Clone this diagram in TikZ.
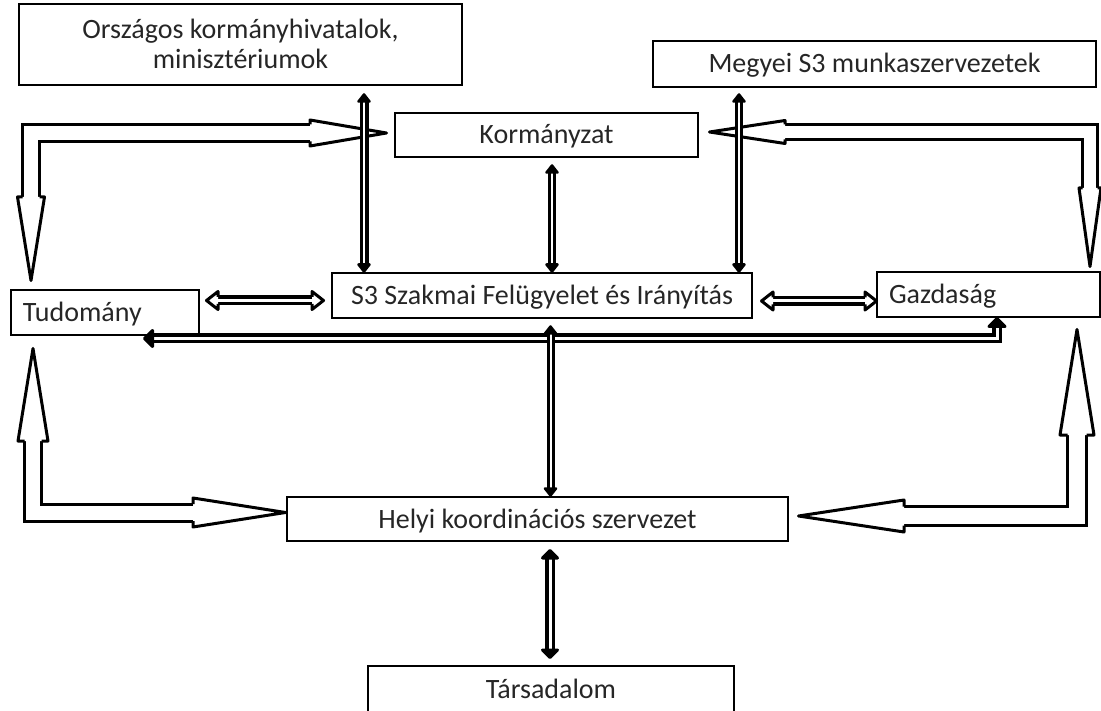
\documentclass[tikz,border=0pt]{standalone}
\usepackage{fontspec}
\setmainfont{Carlito}
\usetikzlibrary{calc}
% shaft: #1 path, #2 outer width, #3 inner (white) width
\newcommand\shaft[3]{%
  \draw[line width=#2pt, line join=miter] #1;
  \draw[white, line width=#3pt, line join=miter] #1;}
% head: #1 tip coordinate, #2 angle, #3 half shaft, #4 half head, #5 length, #6 stroke
\newcommand\bhead[6]{%
  \begin{scope}[shift={#1}, rotate=#2]
    \filldraw[fill=white, line width=#6pt, line join=round]
      (-#5,#3) -- (-#5,#4) -- (0,0) -- (-#5,-#4) -- (-#5,-#3);
  \end{scope}}
% solid small head: #1 tip, #2 angle, #3 half head, #4 length, #5 stroke
\newcommand\shead[5]{%
  \begin{scope}[shift={#1}, rotate=#2]
    \filldraw[line width=#5pt, line join=round]
      (-#4,#3) -- (0,0) -- (-#4,-#3) -- cycle;
  \end{scope}}
\begin{document}
\begin{tikzpicture}[x=1pt,y=-1pt,
  box/.style={draw=black, line width=1.3pt, rectangle, inner sep=0pt, text=black!85,
    font=\fontsize{28}{30}\selectfont, text height=18pt, text depth=0pt}]
\useasboundingbox (0,0) rectangle (1101,711);
% boxes
\node[box, minimum width=443pt, minimum height=81pt, align=center, text height=48pt] (org) at (240.5,44.5)
  {Országos kormányhivatalok,\\minisztériumok};
\node[box, minimum width=443pt, minimum height=46pt] (meg) at (874.5,64) {Megyei S3 munkaszervezetek};
\node[box, minimum width=303pt, minimum height=44pt] (kor) at (546.5,135) {Kormányzat};
\node[box, minimum width=420pt, minimum height=45pt] (s3) at (542,295.5) {S3 Szakmai Felügyelet és Irányítás};
\node[box, minimum width=188pt, minimum height=45pt] (tud) at (105,312.5) {\hbox to 164pt{Tudomány\hfil}};
\node[box, minimum width=223pt, minimum height=45pt] (gaz) at (988.5,294.5) {\hbox to 199pt{Gazdaság\hfil}};
\node[box, minimum width=501pt, minimum height=44pt] (hel) at (537.5,519) {Helyi koordinációs szervezet};
\node[box, minimum width=366pt, minimum height=47pt] (tar) at (551,689.5) {Társadalom};

% block arrow A: Kormányzat <-> Tudomány
\shaft{(31,197) -- (31,133) -- (310,133)}{20}{14}
\bhead{(386.5,133)}{0}{8.5}{13}{76.5}{3}
\bhead{(31,280.5)}{-90}{8.5}{13.5}{83.5}{3}
% block arrow B: Tudomány <-> Helyi
\shaft{(33,441) -- (33,512.5) -- (193,512.5)}{20}{14}
\bhead{(33,348.5)}{90}{8.5}{15}{92.5}{3}
\bhead{(285.5,512.5)}{0}{8.5}{14.5}{92.5}{3}
% block arrow C: Kormányzat <-> Gazdaság
\shaft{(785,132) -- (1090,132) -- (1090,188)}{18}{12}
\bhead{(709.5,132)}{180}{7.5}{11.5}{75.5}{3}
\bhead{(1090,266.5)}{-90}{7.5}{11}{78.5}{3}
% block arrow D: Gazdaság <-> Helyi
\shaft{(1077,435) -- (1077,516) -- (904,516)}{22}{16}
\bhead{(1077,329.5)}{90}{9.5}{17}{105.5}{3}
\bhead{(798.5,516)}{180}{9.5}{16}{105.5}{3}

% long arrow Gazdaság -> Tudomány
\shaft{(151,338.5) -- (997,338.5) -- (997,325)}{10}{3}
\shead{(144.5,338.5)}{180}{8}{8}{3}
\shead{(997,318.5)}{90}{8}{8}{3}

% thin double arrows
\shaft{(364,100) -- (364,266)}{9}{1.5}
\shead{(364,94.5)}{90}{5.5}{7}{2.5}
\shead{(364,271.5)}{-90}{5.5}{7}{2.5}

\shaft{(739,100) -- (739,266)}{8}{2}
\shead{(739,94.5)}{90}{5.5}{7}{2.5}
\shead{(739,271.5)}{-90}{5.5}{7}{2.5}

\shaft{(552,171) -- (552,266)}{8}{2}
\shead{(552,165.5)}{90}{5.5}{7}{2.5}
\shead{(552,271.5)}{-90}{5.5}{7}{2.5}

\shaft{(218,300.5) -- (312,300.5)}{10}{3}
\bhead{(206.5,300.5)}{180}{3.5}{9}{11.5}{3}
\bhead{(323.5,300.5)}{0}{3.5}{9}{11.5}{3}

\shaft{(773,301) -- (865,301)}{10}{3}
\bhead{(761.5,301)}{180}{3.5}{9}{11.5}{3}
\bhead{(876.5,301)}{0}{3.5}{9}{11.5}{3}

\shaft{(550.5,332) -- (550.5,490)}{8}{2}
\shead{(550.5,326.5)}{90}{5.5}{7}{2.5}
\shead{(550.5,495.5)}{-90}{5.5}{7}{2.5}

\shaft{(550,556) -- (550,652)}{10}{3}
\shead{(550,550.5)}{90}{7.5}{7.5}{3}
\shead{(550,657.5)}{-90}{7.5}{7.5}{3}
\end{tikzpicture}
\end{document}
